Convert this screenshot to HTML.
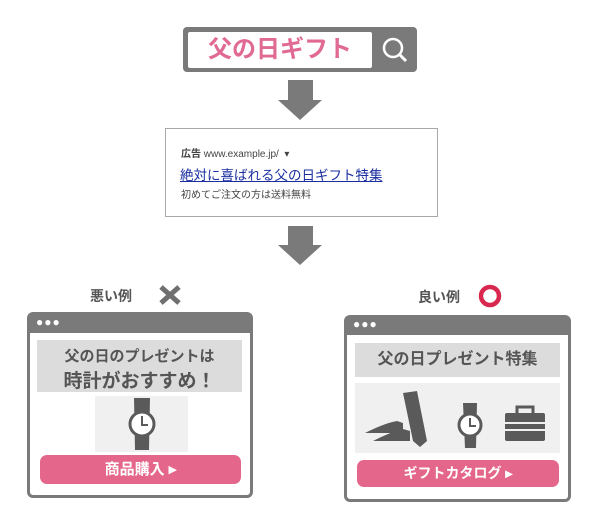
<!DOCTYPE html>
<html><head><meta charset="utf-8"><style>
body{margin:0;width:602px;height:527px;background:#fff;position:relative;overflow:hidden;font-family:"Liberation Sans","Noto Sans CJK JP",sans-serif}
.a{position:absolute}
.t{position:absolute;white-space:nowrap;font-weight:bold;color:#555}
</style></head><body>
<div class="a" style="left:183px;top:27px;width:234px;height:45px;background:#7a7a7a;border-radius:4px"></div>
<div class="a" style="left:188px;top:32px;width:184px;height:36px;background:#fff;border-radius:2px"></div>
<div class="t" style="left:188px;top:32px;width:184px;line-height:36px;text-align:center;font-size:24px;color:#e06a93">父の日ギフト</div>
<svg class="a" style="left:378px;top:33px" width="34" height="34"><circle cx="15" cy="15" r="9" fill="none" stroke="#fff" stroke-width="2.5"/><line x1="22" y1="22" x2="28" y2="28" stroke="#fff" stroke-width="3"/></svg>
<svg class="a" style="left:0;top:0" width="602" height="527">
<polygon points="288,80 313,80 313,100 322,100 300,120 278,100 288,100" fill="#7a7a7a"/>
<polygon points="288,226 313,226 313,245 322,245 300,265 278,245 288,245" fill="#7a7a7a"/>
<g stroke="#6f6f6f" stroke-width="5"><line x1="161" y1="287" x2="179" y2="303"/><line x1="179" y1="287" x2="161" y2="303"/></g>
<circle cx="490" cy="296" r="9" fill="none" stroke="#d8284f" stroke-width="4.5"/>
</svg>
<div class="a" style="left:165px;top:128px;width:271px;height:87px;border:1px solid #aaa"></div>
<div class="t" style="left:181px;top:145px;font-size:10px;color:#444">広告 <span style="font-weight:normal">www.example.jp/ &nbsp;▾</span></div>
<div class="a" style="left:180px;top:164px;font-size:13.5px;color:#1a2ea0;text-decoration:underline;white-space:nowrap">絶対に喜ばれる父の日ギフト特集</div>
<div class="a" style="left:181px;top:186px;font-size:10px;color:#444;white-space:nowrap">初めてご注文の方は送料無料</div>
<div class="t" style="left:90px;top:286px;font-size:14px">悪い例</div>
<div class="t" style="left:418px;top:287px;font-size:14px">良い例</div>
<!-- left window -->
<div class="a" style="left:27px;top:312px;width:220px;height:162px;border:3px solid #7a7a7a;border-top:21px solid #7a7a7a;border-radius:6px;background:#fff"></div>
<div class="a" style="left:36px;top:315px;font-size:12px;color:#fff;letter-spacing:1px">●●●</div>
<div class="a" style="left:37px;top:340px;width:205px;height:52px;background:#dcdcdc"></div>
<div class="t" style="left:37px;top:345px;width:205px;text-align:center;font-size:15px">父の日のプレゼントは</div>
<div class="t" style="left:37px;top:366px;width:205px;text-align:center;font-size:19px">時計がおすすめ！</div>
<div class="a" style="left:95px;top:396px;width:93px;height:56px;background:#f0f0f0"></div>
<svg class="a" style="left:120px;top:396px" width="44" height="56"><path d="M14 2 L30 2 L29 54 L15 54 Z" fill="#5a5a5a"/><circle cx="22" cy="28" r="12" fill="#fff" stroke="#5a5a5a" stroke-width="3"/><path d="M22 20 V29 H28" fill="none" stroke="#5a5a5a" stroke-width="2"/></svg>
<div class="a" style="left:40px;top:455px;width:201px;height:29px;background:#e4668a;border-radius:7px"></div>
<div class="t" style="left:40px;top:455px;width:201px;line-height:29px;text-align:center;font-size:15px;color:#fff">商品購入 ▸</div>
<!-- right window -->
<div class="a" style="left:344px;top:315px;width:221px;height:164px;border:3px solid #7a7a7a;border-top:20px solid #7a7a7a;border-radius:6px;background:#fff"></div>
<div class="a" style="left:353px;top:317px;font-size:12px;color:#fff;letter-spacing:1px">●●●</div>
<div class="a" style="left:355px;top:343px;width:205px;height:34px;background:#dcdcdc"></div>
<div class="t" style="left:355px;top:343px;width:205px;line-height:34px;text-align:center;font-size:16px">父の日プレゼント特集</div>
<div class="a" style="left:355px;top:383px;width:205px;height:70px;background:#f0f0f0"></div>
<svg class="a" style="left:355px;top:383px" width="205" height="70">
<g fill="#5a5a5a">
<path d="M10 50 Q30 40 42 38 L48 40 L48 50 Z"/><path d="M18 58 Q38 48 48 46 L55 48 L55 58 Z"/>
<path d="M48 10 L62 8 L72 58 L65 64 L58 58 Z"/>
<path d="M108 20 L122 20 L121 65 L110 65 Z"/>
<rect x="150" y="30" width="40" height="28" rx="2"/><rect x="162" y="24" width="16" height="8" fill="none" stroke="#5a5a5a" stroke-width="3"/>
</g>
<circle cx="115" cy="42" r="11" fill="#fff" stroke="#5a5a5a" stroke-width="3"/><path d="M115 35 V43 H121" fill="none" stroke="#5a5a5a" stroke-width="2"/>
<g stroke="#f0f0f0" stroke-width="2"><line x1="150" y1="40" x2="190" y2="40"/><line x1="150" y1="47" x2="190" y2="47"/></g>
</svg>
<div class="a" style="left:357px;top:460px;width:202px;height:27px;background:#e4668a;border-radius:7px"></div>
<div class="t" style="left:357px;top:460px;width:202px;line-height:27px;text-align:center;font-size:14px;color:#fff">ギフトカタログ ▸</div>
</body></html>
